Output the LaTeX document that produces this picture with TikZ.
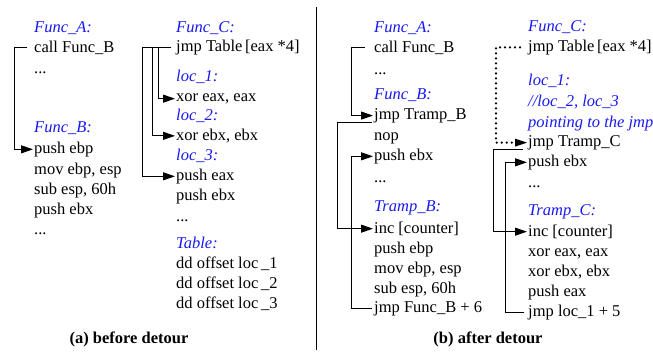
\documentclass[tikz,border=0pt]{standalone}
\usepackage{fontspec}
\setmainfont{Liberation Serif}
\usetikzlibrary{arrows.meta}
\definecolor{labblue}{RGB}{25,25,240}
\tikzset{
  code/.style={anchor=mid west, inner sep=0pt, font=\fontsize{16.5}{20}\selectfont},
  lab/.style={code, text=labblue, font=\fontsize{16.5}{20}\selectfont\itshape},
  capt/.style={anchor=mid, inner sep=0pt, font=\fontsize{16.5}{20}\selectfont\bfseries},
  link/.style={line width=1pt, black},
  tipshape/.style={},
  arr/.style={link, -{Triangle[length=12pt,width=8pt]}},
  dotarr/.style={line width=2.4pt, line cap=round, dash pattern=on 0pt off 5pt,
                 -{Triangle[length=12pt,width=8pt,line cap=butt,line width=0pt]}}
}
\begin{document}
\begin{tikzpicture}[x=1pt,y=-1pt]
\useasboundingbox (0,0) rectangle (653,353);

% ---------- (a) before detour ----------
\node[lab]  (aFA)  at (34,30)  {Func\_A:};
\node[code] (aCall) at (34,50) {call Func\_B};
\node[code] (aDots1) at (34,71) {...};
\node[lab]  (aFB)  at (34,130) {Func\_B:};
\node[code] (aPush) at (34,151) {push ebp};
\node[code] (aMov) at (34,172) {mov ebp, esp};
\node[code] (aSub) at (34,192) {sub esp, 60h};
\node[code] (aPbx) at (34,212) {push ebx};
\node[code] (aDots2) at (34,232) {...};

\node[lab]  (aFC)  at (176,30)  {Func\_C:};
\node[code] (aJmp) at (176,49)  {jmp Table\,[eax *4]};
\node[lab]  (aL1)  at (176,79)  {loc\_1:};
\node[code] (aX1)  at (176,99)  {xor eax, eax};
\node[lab]  (aL2)  at (176,118) {loc\_2:};
\node[code] (aX2)  at (176,138) {xor ebx, ebx};
\node[lab]  (aL3)  at (176,158) {loc\_3:};
\node[code] (aPa)  at (176,178) {push eax};
\node[code] (aPb)  at (176,198) {push ebx};
\node[code] (aDots3) at (176,219) {...};
\node[lab]  (aTab) at (176,246) {Table:};
\node[code] (aD1)  at (176,266) {dd offset loc\,\_1};
\node[code] (aD2)  at (176,286) {dd offset loc\,\_2};
\node[code] (aD3)  at (176,306) {dd offset loc\,\_3};

\node[capt] (capA) at (129,341) {(a) before detour};

\draw[arr] ([xshift=-7pt]aCall.west) -- ++(-13,0) |- ([xshift=-1pt]aPush.west);
\draw[arr] ([xshift=-5pt]aJmp.west) -- ++(-13,0) |- ([xshift=-1pt]aX1.west);
\draw[arr] ([xshift=-5pt]aJmp.west) -- ++(-19,0) |- ([xshift=-1pt]aX2.west);
\draw[arr] ([xshift=-5pt]aJmp.west) -- ++(-29,0) |- ([xshift=-1pt]aPa.west);

% divider
\coordinate (divTop) at (316,7);
\coordinate (divBot) at (316,350);
\draw[line width=1pt, black] (divTop) -- (divBot);

% ---------- (b) after detour ----------
\node[lab]  (bFA)  at (374,30)  {Func\_A:};
\node[code] (bCall) at (374,50) {call Func\_B};
\node[code] (bDots1) at (374,72) {...};
\node[lab]  (bFB)  at (374,97)  {Func\_B:};
\node[code] (bJtb) at (374,117) {jmp Tramp\_B};
\node[code] (bNop) at (374,138) {nop};
\node[code] (bPbx) at (374,158) {push ebx};
\node[code] (bDots2) at (374,180) {...};
\node[lab]  (bTB)  at (374,209) {Tramp\_B:};
\node[code] (bInc) at (374,231) {inc [counter]};
\node[code] (bPush) at (374,251) {push ebp};
\node[code] (bMov) at (374,271) {mov ebp, esp};
\node[code] (bSub) at (374,291) {sub esp, 60h};
\node[code] (bJfb) at (374,310) {jmp Func\_B + 6};

\node[lab]  (bFC)  at (528,29)  {Func\_C:};
\node[code] (bJmp) at (528,49)  {jmp Table\,[eax *4]};
\node[lab]  (bL1)  at (528,83)  {loc\_1:};
\node[lab]  (bC1)  at (528,104) {//loc\_2, loc\_3};
\node[lab]  (bC2)  at (528,125) {pointing to the jmp};
\node[code] (bJtc) at (528,144) {jmp Tramp\_C};
\node[code] (bPbx2) at (528,164) {push ebx};
\node[code] (bDots3) at (528,185) {...};
\node[lab]  (bTC)  at (528,213) {Tramp\_C:};
\node[code] (bInc2) at (528,234) {inc [counter]};
\node[code] (bX1)  at (528,254) {xor eax, eax};
\node[code] (bX2)  at (528,274) {xor ebx, ebx};
\node[code] (bPa)  at (528,294) {push eax};
\node[code] (bJl)  at (528,314) {jmp loc\_1 + 5};

\node[capt] (capB) at (488,341) {(b) after detour};

\draw[arr] ([xshift=-9pt]bCall.west) -- ++(-14,0) |- ([xshift=-1pt]bJtb.west);
\draw[arr] ([xshift=-2pt,yshift=-7pt]bJtb.west) -- ++(-35,0) |- ([xshift=-1pt]bInc.west);
\draw[arr] ([xshift=-2pt]bJfb.west) -- ++(-21,0) |- ([xshift=-1pt]bPbx.west);

\draw[dotarr] ([xshift=-8pt]bJmp.west) -- ++(-24,0) |- ([xshift=-1pt]bJtc.west);
\draw[arr] ([xshift=-5pt,yshift=-7pt]bJtc.west) -- ++(-30,0) |- ([xshift=-1pt]bInc2.west);
\draw[arr] ([xshift=-4pt]bJl.west) -- ++(-19,0) |- ([xshift=-1pt]bPbx2.west);
\end{tikzpicture}
\end{document}
